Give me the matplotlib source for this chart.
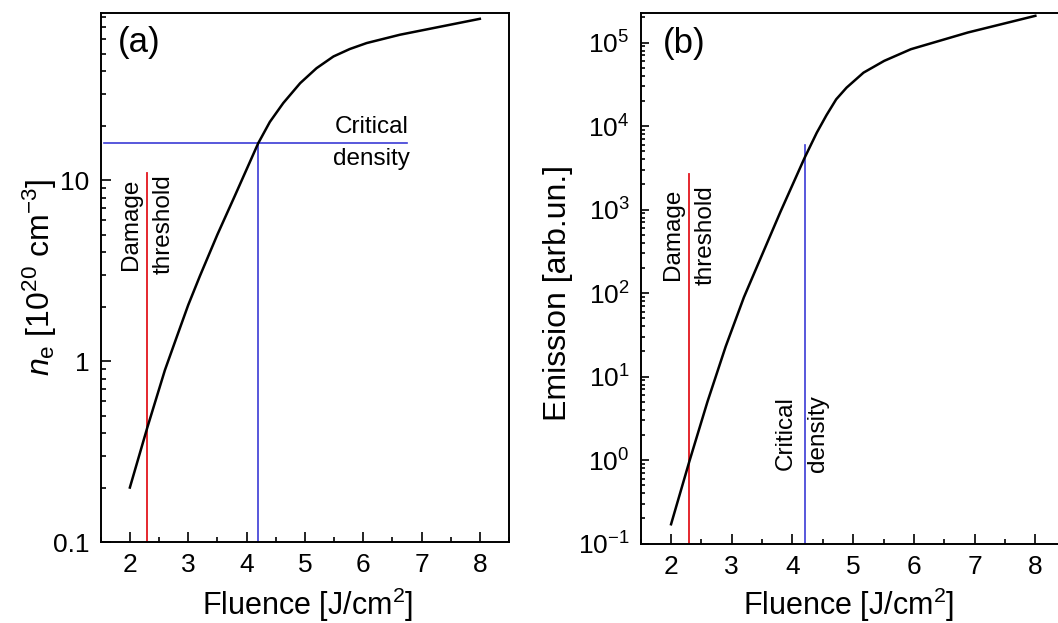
import numpy as np
import matplotlib
matplotlib.use("Agg")
import matplotlib.pyplot as plt
from matplotlib.ticker import MultipleLocator, LogLocator, NullFormatter, FuncFormatter, FixedLocator

plt.rcParams["font.family"] = ["Liberation Sans", "DejaVu Sans"]
plt.rcParams["mathtext.fontset"] = "custom"
plt.rcParams["mathtext.rm"] = "Liberation Sans"
plt.rcParams["mathtext.it"] = "Liberation Sans:italic"
plt.rcParams["mathtext.bf"] = "Liberation Sans:bold"

# panel (a): electron density vs fluence
fluence_a = [2.0, 2.3, 2.6, 2.8, 3.0, 3.2, 3.5, 3.8, 4.2, 4.4, 4.63, 4.92, 5.2, 5.49, 5.77, 6.06, 6.63, 7.2, 8.0]
density_a = [0.2, 0.43, 0.89, 1.35, 2.04, 2.95, 5.0, 8.2, 16.0, 21.0, 26.7, 34.4, 41.6, 48.3, 53.1, 57.3, 63.7, 69.3, 78.0]

# panel (b): emission vs fluence
fluence_b = [2.0, 2.3, 2.6, 2.9, 3.2, 3.4, 3.8, 4.2, 4.4, 4.56, 4.72, 4.89, 5.17, 5.51, 5.95, 6.89, 8.0]
emission_b = [0.17, 0.955, 5.0, 22.9, 89, 195, 933, 4170, 8320, 13500, 20900, 28800,
              43600, 60300, 83200, 132000, 209000]

DAMAGE_F = 2.3
CRIT_F = 4.2
CRIT_NE = 16.0

RED = "#e3161e"
BLUE = "#3b3bd6"

W, H = 1058, 623
fig = plt.figure(figsize=(W / 100, H / 100), dpi=100)

ax1 = fig.add_axes([100.7 / W, (H - 542) / H, 408.3 / W, 529 / H])
ax2 = fig.add_axes([640.7 / W, (H - 543.5) / H, 425 / W, 530.2 / H])

ANN_FS = 17.5
ANN_LS = 1.6


def style_axis(ax):
    for s in ax.spines.values():
        s.set_linewidth(1.4)
    ax.tick_params(which="both", direction="in", top=False, right=False, width=1.2)
    ax.tick_params(which="major", length=7, labelsize=19, pad=8)
    ax.tick_params(which="minor", length=3.5)
    ax.xaxis.set_major_locator(MultipleLocator(1))
    ax.xaxis.set_minor_locator(MultipleLocator(0.5))
    ax.set_xlim(1.5, 8.5)
    ax.set_yscale("log")


# ---- (a)
style_axis(ax1)
ax1.plot(fluence_a, density_a, color="black", lw=1.8, zorder=3)
ax1.plot([DAMAGE_F, DAMAGE_F], [0.1, 11], color=RED, lw=1.3)
ax1.plot([CRIT_F, CRIT_F], [0.1, CRIT_NE], color=BLUE, lw=1.2)
ax1.plot([1.55, 6.75], [CRIT_NE, CRIT_NE], color=BLUE, lw=1.2)
ax1.set_ylim(0.1, 84)
ax1.yaxis.set_major_locator(FixedLocator([0.1, 1, 10]))
ax1.yaxis.set_major_formatter(FuncFormatter(lambda v, p: f"{v:g}"))
ax1.yaxis.set_minor_locator(LogLocator(base=10, subs=np.arange(2, 10), numticks=20))
ax1.yaxis.set_minor_formatter(NullFormatter())
ax1.text(DAMAGE_F, 5.7, "Damage\nthreshold", rotation=90, ha="center", va="center",
         multialignment="center", fontsize=ANN_FS, linespacing=ANN_LS)
ax1.text(6.15, CRIT_NE, "Critical\ndensity", ha="center", va="center",
         multialignment="center", fontsize=ANN_FS, linespacing=ANN_LS)
ax1.text(0.042, 0.975, "(a)", transform=ax1.transAxes, fontsize=25, ha="left", va="top")
ax1.set_xlabel(r"Fluence [J/cm$^2$]", fontsize=22)
ax1.set_ylabel(r"$n_\mathrm{e}$ [10$^{20}$ cm$^{-3}$]", fontsize=23)
ax1.xaxis.set_label_coords(0.506, -0.138)
ax1.xaxis.label.set_va("baseline")
ax1.yaxis.set_label_coords(-0.15, 0.5)
ax1.yaxis.label.set_va("center")

# ---- (b)
style_axis(ax2)
ax2.plot(fluence_b, emission_b, color="black", lw=1.8, zorder=3)
ax2.plot([DAMAGE_F, DAMAGE_F], [0.1, 2700], color=RED, lw=1.3)
ax2.plot([CRIT_F, CRIT_F], [0.1, 5900], color=BLUE, lw=1.2)
ax2.set_ylim(0.1, 2.24e5)
ax2.yaxis.set_major_locator(LogLocator(base=10, numticks=20))
ax2.yaxis.set_minor_locator(LogLocator(base=10, subs=np.arange(2, 10), numticks=20))
ax2.yaxis.set_minor_formatter(NullFormatter())
ax2.tick_params(axis="y", which="major", length=6)
ax2.tick_params(axis="y", which="minor", length=3)
ax2.text(DAMAGE_F, 500, "Damage\nthreshold", rotation=90, ha="center", va="center",
         multialignment="center", fontsize=ANN_FS, linespacing=ANN_LS)
ax2.text(CRIT_F - 0.05, 2.1, "Critical\ndensity", rotation=90, ha="center", va="center",
         multialignment="center", fontsize=ANN_FS, linespacing=ANN_LS)
ax2.text(0.052, 0.975, "(b)", transform=ax2.transAxes, fontsize=25, ha="left", va="top")
ax2.set_xlabel(r"Fluence [J/cm$^2$]", fontsize=22)
ax2.set_ylabel("Emission [arb.un.]", fontsize=23)
ax2.xaxis.set_label_coords(0.49, -0.135)
ax2.xaxis.label.set_va("baseline")
ax2.yaxis.set_label_coords(-0.195, 0.473)
ax2.yaxis.label.set_va("center")

fig.savefig("out.png", dpi=100)
